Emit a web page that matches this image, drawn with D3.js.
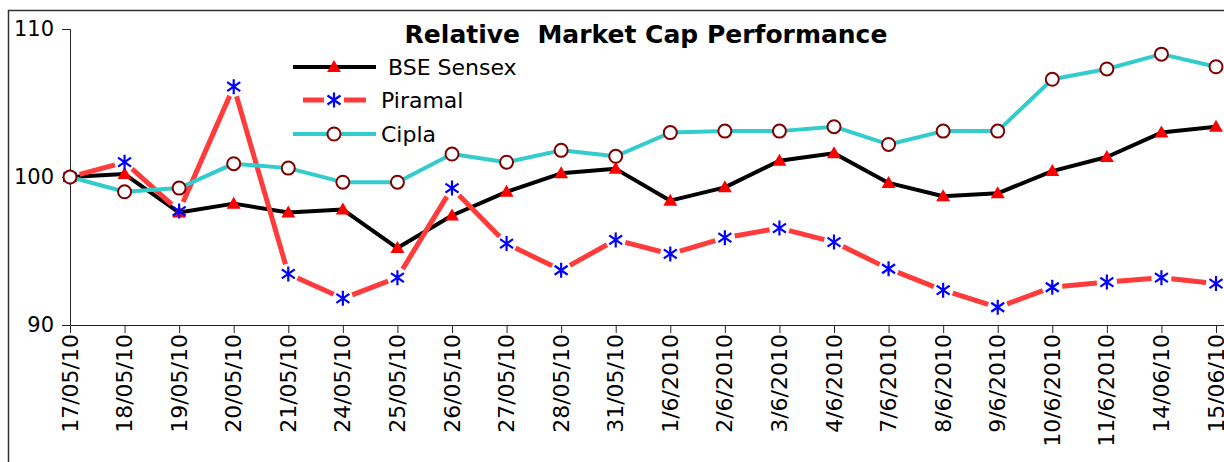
<!DOCTYPE html>
<html>
<head>
<meta charset="utf-8">
<script src="https://cdn.jsdelivr.net/npm/d3@7"></script>
<style>
  html, body { margin: 0; padding: 0; background: #fff; }
  svg { display: block; font-family: "DejaVu Sans", Verdana, sans-serif; }
</style>
</head>
<body>
<div id="chart"></div>
<script>
// categories (trading days)
const dates = ["17/05/10", "18/05/10", "19/05/10", "20/05/10", "21/05/10", "24/05/10",
  "25/05/10", "26/05/10", "27/05/10", "28/05/10", "31/05/10", "1/6/2010", "2/6/2010",
  "3/6/2010", "4/6/2010", "7/6/2010", "8/6/2010", "9/6/2010", "10/6/2010", "11/6/2010",
  "14/06/10", "15/06/10"];

// series values
const sensex = [100, 100.2, 97.6, 98.2, 97.6, 97.8, 95.2, 97.4, 99.0, 100.25, 100.55, 98.4,
  99.3, 101.1, 101.6, 99.6, 98.7, 98.9, 100.4, 101.35, 103.0, 103.4];
const piramal = [100, 101.0, 97.7, 106.1, 93.45, 91.8, 93.2, 99.25, 95.5, 93.7, 95.75, 94.8,
  95.9, 96.55, 95.6, 93.8, 92.35, 91.2, 92.55, 92.9, 93.2, 92.8];
const cipla = [100, 99.0, 99.25, 100.9, 100.6, 99.65, 99.65, 101.55, 101.0, 101.8, 101.4, 103.0,
  103.1, 103.1, 103.4, 102.2, 103.1, 103.1, 106.6, 107.3, 108.3, 107.45];

const yTicks = [90, 100, 110];

const width = 1224, height = 462;

const svg = d3.select('#chart').append('svg')
  .attr('width', width)
  .attr('height', height);

// outer chart frame (runs off the right and bottom edges)
svg.append('rect')
  .attr('x', 8.5).attr('y', 10.5)
  .attr('width', 1240).attr('height', 480)
  .attr('fill', 'none')
  .attr('stroke', '#333')
  .attr('stroke-width', 1.5);

const x = d3.scalePoint().domain(dates).range([70, 1216]).padding(0);
const y = d3.scaleLinear().domain([90, 110]).range([325, 29]);

// y axis
const yAxis = svg.append('g')
  .attr('transform', 'translate(70,0)')
  .call(d3.axisLeft(y).tickValues(yTicks).tickSize(8).tickPadding(8).tickFormat(d3.format('d')));
yAxis.select('.domain').attr('stroke', '#222');
yAxis.selectAll('line').attr('stroke', '#222');
yAxis.selectAll('text')
  .attr('font-size', 21)
  .attr('font-family', '"DejaVu Sans", sans-serif')
  .attr('fill', '#000');

// x axis
const xAxis = svg.append('g')
  .attr('transform', 'translate(0,325)')
  .call(d3.axisBottom(x).tickSize(8).tickSizeOuter(0).tickFormat(''));
xAxis.select('.domain').attr('stroke', '#222').attr('d', 'M70,0.5H1240');
xAxis.selectAll('line').attr('stroke', '#222');

svg.append('g').selectAll('text')
  .data(dates)
  .join('text')
  .attr('transform', d => `translate(${x(d)},334) rotate(-90)`)
  .attr('text-anchor', 'end')
  .attr('dominant-baseline', 'central')
  .attr('font-size', 22)
  .attr('fill', '#000')
  .text(d => d);

const line = d3.line()
  .x((d, i) => x(dates[i]))
  .y(d => y(d));

// marker shapes
const triangle = 'M0,-7L7,5L-7,5Z';
const asterisk = 'M0,-7.5V7.5M-6.5,-4.5L6.5,4.5M-6.5,4.5L6.5,-4.5';

function drawMarker(g, kind, px, py) {
  if (kind === 'tri') {
    g.append('path').attr('d', triangle)
      .attr('transform', `translate(${px},${py})`)
      .attr('fill', '#ff0000');
  } else if (kind === 'star') {
    g.append('path').attr('d', asterisk)
      .attr('transform', `translate(${px},${py})`)
      .attr('fill', 'none')
      .attr('stroke', '#0000ff')
      .attr('stroke-width', 2.2);
  } else {
    g.append('circle')
      .attr('cx', px).attr('cy', py).attr('r', 6.5)
      .attr('fill', '#fff')
      .attr('stroke', '#800000')
      .attr('stroke-width', 2);
  }
}

// line broken short of every marker, as the Piramal series is drawn
function gappedSegments(g, pts, gap, color, w) {
  for (let i = 1; i < pts.length; i++) {
    const [x0, y0] = pts[i - 1], [x1, y1] = pts[i];
    const len = Math.hypot(x1 - x0, y1 - y0);
    if (len <= 2 * gap) continue;
    const ux = (x1 - x0) / len, uy = (y1 - y0) / len;
    g.append('line')
      .attr('x1', x0 + ux * gap).attr('y1', y0 + uy * gap)
      .attr('x2', x1 - ux * gap).attr('y2', y1 - uy * gap)
      .attr('stroke', color)
      .attr('stroke-width', w);
  }
}

const series = [
  { name: ' BSE Sensex', values: sensex, color: '#000', width: 4, gap: 0, marker: 'tri' },
  { name: 'Piramal', values: piramal, color: '#ff3b3b', width: 5, gap: 10, marker: 'star' },
  { name: 'Cipla', values: cipla, color: '#33cccc', width: 4, gap: 0, marker: 'circ' }
];

series.forEach(s => {
  const g = svg.append('g');
  if (s.gap) {
    const pts = s.values.map((v, i) => [x(dates[i]), y(v)]);
    gappedSegments(g, pts, s.gap, s.color, s.width);
  } else {
    g.append('path')
      .datum(s.values)
      .attr('d', line)
      .attr('fill', 'none')
      .attr('stroke', s.color)
      .attr('stroke-width', s.width)
      .attr('stroke-linejoin', 'round');
  }
  s.values.forEach((v, i) => drawMarker(g, s.marker, x(dates[i]), y(v)));
});

// title
svg.append('text')
  .attr('x', 646).attr('y', 43)
  .attr('text-anchor', 'middle')
  .attr('font-size', 25)
  .attr('font-weight', 'bold')
  .attr('fill', '#000')
  .style('white-space', 'pre')
  .text('Relative  Market Cap Performance');

// legend
const legendRows = [67, 100, 134];
series.forEach((s, i) => {
  const g = svg.append('g');
  const ly = legendRows[i];
  if (s.gap) {
    gappedSegments(g, [[293, ly], [334, ly], [376, ly]], s.gap, s.color, s.width);
  } else {
    g.append('line')
      .attr('x1', 293).attr('x2', 376)
      .attr('y1', ly).attr('y2', ly)
      .attr('stroke', s.color)
      .attr('stroke-width', s.width);
  }
  drawMarker(g, s.marker, 334, ly);
  g.append('text')
    .attr('x', 381).attr('y', ly)
    .attr('dominant-baseline', 'central')
    .attr('font-size', 22)
    .attr('fill', '#000')
    .style('white-space', 'pre')
    .text(s.name);
});
</script>
</body>
</html>
